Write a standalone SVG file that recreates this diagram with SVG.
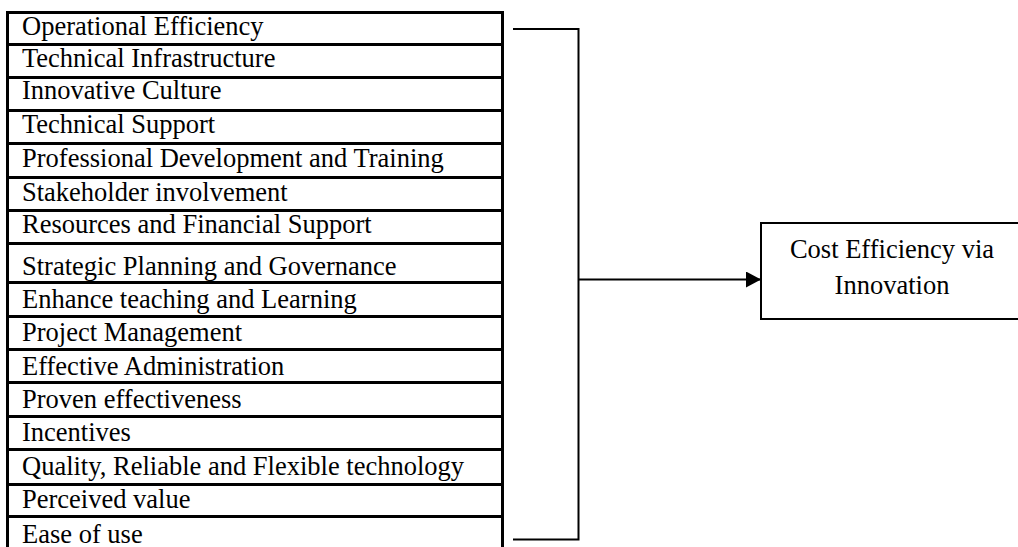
<svg xmlns="http://www.w3.org/2000/svg" width="1018" height="547" viewBox="0 0 1018 547">
<style>
.row rect{fill:#fff;stroke:#000;stroke-width:3}
text{font-family:"Liberation Serif","Times New Roman",serif;font-size:26.5px;fill:#000}
.conn{fill:none;stroke:#000;stroke-width:2}
</style>
<defs>
<marker id="arr" markerWidth="16" markerHeight="18" refX="15" refY="8" orient="auto" markerUnits="userSpaceOnUse">
<path d="M0,0 L15,8 L0,16 Z" fill="#000"/>
</marker>
</defs>
<rect width="1018" height="547" fill="#fff"/>
<g id="n1" class="row"><rect x="7.5" y="12.5" width="495" height="32"/><text x="22" y="35">Operational Efficiency</text></g>
<g id="n2" class="row"><rect x="7.5" y="44.5" width="495" height="33"/><text x="22" y="67">Technical Infrastructure</text></g>
<g id="n3" class="row"><rect x="7.5" y="77.5" width="495" height="33"/><text x="22" y="99">Innovative Culture</text></g>
<g id="n4" class="row"><rect x="7.5" y="110.5" width="495" height="33"/><text x="22" y="133">Technical Support</text></g>
<g id="n5" class="row"><rect x="7.5" y="143.5" width="495" height="34"/><text x="22" y="167">Professional Development and Training</text></g>
<g id="n6" class="row"><rect x="7.5" y="177.5" width="495" height="33"/><text x="22" y="201">Stakeholder involvement</text></g>
<g id="n7" class="row"><rect x="7.5" y="210.5" width="495" height="33"/><text x="22" y="233">Resources and Financial Support</text></g>
<g id="n8" class="row"><rect x="7.5" y="243.5" width="495" height="39"/><text x="22" y="275">Strategic Planning and Governance</text></g>
<g id="n9" class="row"><rect x="7.5" y="282.5" width="495" height="34"/><text x="22" y="308">Enhance teaching and Learning</text></g>
<g id="n10" class="row"><rect x="7.5" y="316.5" width="495" height="33"/><text x="22" y="341">Project Management</text></g>
<g id="n11" class="row"><rect x="7.5" y="349.5" width="495" height="33"/><text x="22" y="375">Effective Administration</text></g>
<g id="n12" class="row"><rect x="7.5" y="382.5" width="495" height="34"/><text x="22" y="408">Proven effectiveness</text></g>
<g id="n13" class="row"><rect x="7.5" y="416.5" width="495" height="33"/><text x="22" y="441">Incentives</text></g>
<g id="n14" class="row"><rect x="7.5" y="449.5" width="495" height="35"/><text x="22" y="475">Quality, Reliable and Flexible technology</text></g>
<g id="n15" class="row"><rect x="7.5" y="484.5" width="495" height="32"/><text x="22" y="508">Perceived value</text></g>
<g id="n16" class="row"><rect x="7.5" y="516.5" width="495" height="40"/><text x="22" y="543">Ease of use</text></g>
<g id="target"><rect x="761" y="223" width="270" height="96" fill="#fff" stroke="#000" stroke-width="2"/>
<text x="892" y="258" text-anchor="middle">Cost Efficiency via</text>
<text x="892" y="294" text-anchor="middle">Innovation</text></g>
<g id="connectors">
<path class="conn" d="M513,29 H578.5 V539.5 H513"/>
<path class="conn" d="M578.5,279.5 H761" marker-end="url(#arr)"/>
</g>
</svg>
